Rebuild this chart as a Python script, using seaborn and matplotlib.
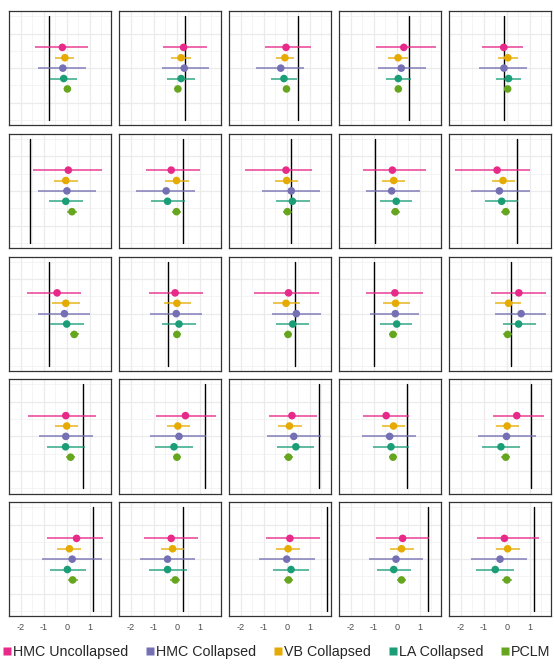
import numpy as np
import pandas as pd
import matplotlib
matplotlib.use("Agg")
import matplotlib.pyplot as plt
import seaborn as sns
from matplotlib.lines import Line2D

sns.set_theme(style="white")
plt.rcParams['font.family'] = ['Liberation Sans', 'DejaVu Sans']

methods = ["HMC Uncollapsed", "HMC Collapsed", "VB Collapsed", "LA Collapsed", "PCLM"]
colors = {"HMC Uncollapsed": "#E7298A", "HMC Collapsed": "#7570B3",
          "VB Collapsed": "#E6AB02", "LA Collapsed": "#1B9E77", "PCLM": "#66A61E"}
# vertical order (top -> bottom) of the dodged intervals
dodge = {"HMC Uncollapsed": 0.12, "VB Collapsed": 0.06, "HMC Collapsed": 0.0,
         "LA Collapsed": -0.06, "PCLM": -0.12}

truth = [-0.76, 0.38, 0.51, 0.55, -0.12,
         -1.59, 0.28, 0.17, -0.94, 0.47,
         -0.76, -0.36, 0.37, -1.01, 0.19,
         0.72, 1.24, 1.41, 0.46, 1.06,
         1.15, 0.28, 1.75, 1.37, 1.21]

hmc_unc_est = [-0.19, 0.30, -0.03, 0.31, -0.13, 0.07, -0.24, -0.03, -0.19, -0.42,
               -0.42, -0.07, 0.08, -0.08, 0.53, -0.04, 0.38, 0.23, -0.46, 0.44,
               0.43, -0.24, 0.14, 0.26, -0.10]
hmc_unc_lo = [-1.38, -0.60, -0.96, -0.90, -1.07, -1.49, -1.35, -1.82, -1.48, -2.26,
              -1.73, -1.23, -1.43, -1.33, -0.69, -1.70, -0.89, -0.77, -1.48, -0.61,
              -0.86, -1.41, -0.91, -0.91, -1.30]
hmc_unc_hi = [0.94, 1.32, 1.04, 1.70, 0.72, 1.52, 1.02, 1.11, 1.26, 1.01,
              0.64, 1.15, 1.42, 1.16, 1.71, 1.26, 1.72, 1.33, 0.52, 1.63,
              1.60, 0.92, 1.45, 1.43, 1.43]

hmc_col_est = [-0.17, 0.33, -0.26, 0.20, -0.12, 0.01, -0.46, 0.20, -0.22, -0.32,
               -0.10, -0.02, 0.42, -0.06, 0.63, -0.04, 0.10, 0.31, -0.31, -0.01,
               0.24, -0.40, 0.00, -0.03, -0.29]
hmc_col_lo = [-1.25, -0.66, -1.34, -0.80, -1.21, -1.25, -1.77, -1.06, -1.36, -1.58,
              -1.24, -1.15, -0.65, -1.18, -0.53, -1.21, -1.15, -0.85, -1.51, -1.26,
              -1.07, -1.61, -1.23, -1.22, -1.57]
hmc_col_hi = [0.85, 1.40, 0.74, 1.29, 0.90, 1.29, 0.81, 1.44, 1.03, 1.00,
              1.03, 1.10, 1.50, 0.97, 1.71, 1.15, 1.30, 1.48, 0.85, 1.27,
              1.52, 0.79, 1.22, 1.14, 0.90]

vb_est = [-0.08, 0.19, -0.08, 0.06, 0.05, -0.04, -0.01, 0.00, -0.13, -0.16,
          -0.04, 0.01, -0.03, -0.05, 0.08, 0.00, 0.05, 0.12, -0.14, 0.02,
          0.12, -0.18, 0.06, 0.21, 0.04]
vb_lo = [-0.49, -0.23, -0.48, -0.36, -0.36, -0.54, -0.50, -0.51, -0.63, -0.64,
         -0.65, -0.56, -0.60, -0.60, -0.52, -0.51, -0.44, -0.37, -0.64, -0.46,
         -0.42, -0.67, -0.45, -0.28, -0.46]
vb_hi = [0.33, 0.62, 0.31, 0.49, 0.49, 0.49, 0.52, 0.51, 0.38, 0.35,
         0.57, 0.62, 0.60, 0.57, 0.64, 0.50, 0.58, 0.65, 0.37, 0.53,
         0.64, 0.33, 0.60, 0.74, 0.56]

la_est = [-0.13, 0.19, -0.12, 0.07, 0.08, -0.04, -0.40, 0.25, -0.02, -0.22,
          0.00, 0.10, 0.26, 0.00, 0.52, -0.05, -0.12, 0.40, -0.25, -0.25,
          0.03, -0.40, 0.19, -0.13, -0.50]
la_lo = [-0.75, -0.41, -0.68, -0.46, -0.47, -0.77, -1.14, -0.48, -0.71, -0.93,
         -0.71, -0.63, -0.48, -0.71, -0.16, -0.85, -0.95, -0.42, -1.03, -1.07,
         -0.74, -1.21, -0.58, -0.87, -1.33]
la_hi = [0.43, 0.78, 0.45, 0.63, 0.63, 0.72, 0.35, 1.00, 0.69, 0.50,
         0.75, 0.84, 0.97, 0.69, 1.26, 0.78, 0.73, 1.20, 0.55, 0.59,
         0.84, 0.44, 0.99, 0.64, 0.33]

pclm_est = [0.03, 0.05, -0.01, 0.07, 0.04, 0.23, -0.01, 0.03, -0.06, -0.04,
            0.33, 0.01, 0.06, -0.16, 0.04, 0.17, 0.01, 0.08, -0.16, -0.04,
            0.26, -0.06, 0.08, 0.21, 0.01]
pclm_lo = [-0.05, -0.03, -0.09, -0.01, -0.04, 0.03, -0.20, -0.16, -0.25, -0.23,
           0.13, -0.18, -0.13, -0.35, -0.15, -0.02, -0.18, -0.11, -0.35, -0.23,
           0.04, -0.28, -0.13, 0.00, -0.20]
pclm_hi = [0.11, 0.13, 0.07, 0.15, 0.12, 0.43, 0.18, 0.22, 0.13, 0.15,
           0.53, 0.20, 0.25, 0.03, 0.23, 0.36, 0.20, 0.27, 0.03, 0.15,
           0.48, 0.16, 0.29, 0.42, 0.22]

series = {
    "HMC Uncollapsed": (hmc_unc_est, hmc_unc_lo, hmc_unc_hi),
    "HMC Collapsed": (hmc_col_est, hmc_col_lo, hmc_col_hi),
    "VB Collapsed": (vb_est, vb_lo, vb_hi),
    "LA Collapsed": (la_est, la_lo, la_hi),
    "PCLM": (pclm_est, pclm_lo, pclm_hi),
}

rows = []
for m in methods:
    est, lo, hi = series[m]
    for p in range(25):
        rows.append({"panel": p, "method": m, "est": est[p], "lo": lo[p],
                     "hi": hi[p], "y": dodge[m]})
df = pd.DataFrame(rows)

W, H = 554, 672
fig = plt.figure(figsize=(W / 100, H / 100), dpi=100)
fig.patch.set_facecolor("white")

xmin, xmax = -2.507, 1.948
for p in range(25):
    r, c = divmod(p, 5)
    left = 9.3 + 110 * c
    top = 11 + 122.75 * r
    ax = fig.add_axes([left / W, 1 - (top + 114.3) / H, 102 / W, 114.3 / H])
    ax.set_xlim(xmin, xmax)
    ax.set_ylim(-0.33, 0.33)
    for gx in [-2.5, -1.5, -0.5, 0.5, 1.5]:
        ax.axvline(gx, color="#F0F0F0", lw=0.5, zorder=0)
    for gx in [-2, -1, 0, 1]:
        ax.axvline(gx, color="#EBEBEB", lw=0.9, zorder=0)
    for gy in [-0.3, -0.1, 0.1, 0.3]:
        ax.axhline(gy, color="#F0F0F0", lw=0.5, zorder=0)
    for gy in [-0.2, 0.0, 0.2]:
        ax.axhline(gy, color="#EBEBEB", lw=0.9, zorder=0)

    ax.plot([truth[p], truth[p]], [-0.3, 0.3], color="black", lw=1.0, zorder=2)

    sub = df[df.panel == p]
    for _, row in sub.iterrows():
        ax.hlines(row["y"], row["lo"], row["hi"], color=colors[row["method"]],
                  lw=1.2, alpha=0.82, zorder=3)
    sns.scatterplot(data=sub, x="est", y="y", hue="method", palette=colors,
                    hue_order=methods, s=30, edgecolor="none", legend=False,
                    ax=ax, zorder=4)
    ax.set_xlabel("")
    ax.set_ylabel("")
    ax.set_yticks([])
    for s in ax.spines.values():
        s.set_color("#333333")
        s.set_linewidth(0.9)
    if r == 4:
        ax.set_xticks([-2, -1, 0, 1])
        ax.set_xticklabels(["-2", "-1", "0", "1"])
        ax.tick_params(axis="x", length=0, labelsize=6.6, labelcolor="#4D4D4D",
                       pad=4.5, bottom=True)
    else:
        ax.set_xticks([])

handles = [Line2D([0], [0], marker="s", linestyle="none", markersize=5.6,
                  markerfacecolor=colors[m], markeredgecolor="none") for m in methods]
fig.legend(handles, methods, loc="center", ncol=5, frameon=False,
           bbox_to_anchor=(0.5, 1 - 651.7 / H), fontsize=10.3,
           handlelength=0.5, handletextpad=0.15, columnspacing=1.3,
           borderpad=0, borderaxespad=0)

fig.savefig("out.png", dpi=100)
